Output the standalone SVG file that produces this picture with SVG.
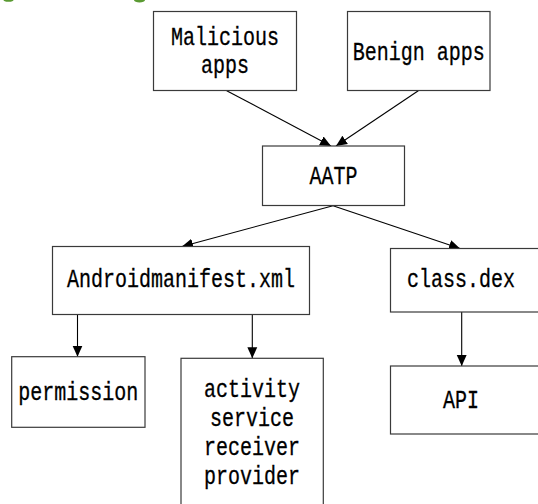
<svg xmlns="http://www.w3.org/2000/svg" width="538" height="504" viewBox="0 0 538 504">
<defs>
<style>
.box{fill:#fff;stroke:#3a3a3a;stroke-width:1.2}
.t{font-family:"Liberation Mono","DejaVu Sans Mono",monospace;font-size:25px;fill:#000;stroke:#000;stroke-width:0.3;text-anchor:middle}
.c{stroke:#000;stroke-width:1.1;fill:none;marker-end:url(#ah)}
</style>
<marker id="ah" viewBox="0 0 10 10" refX="10" refY="5" markerWidth="11" markerHeight="11" markerUnits="userSpaceOnUse" orient="auto">
<path d="M0,0.5 L10,5 L0,9.5 Z" fill="#000"/>
</marker>
</defs>
<rect width="538" height="504" fill="#fff"/>
<g id="fragments" fill="#5a9a32">
<ellipse cx="8.5" cy="0" rx="5" ry="1.8"/>
<ellipse cx="139.5" cy="0" rx="5.5" ry="2.5"/>
</g>
<g id="connectors">
<line class="c" x1="226.7" y1="90.7" x2="331" y2="146"/>
<line class="c" x1="418.3" y1="90.7" x2="336" y2="146"/>
<line class="c" x1="333" y1="205.7" x2="182" y2="246.5"/>
<line class="c" x1="333" y1="205.7" x2="460" y2="248.5"/>
<line class="c" x1="77.5" y1="314.5" x2="77.5" y2="356.7"/>
<line class="c" x1="252.3" y1="314.5" x2="252.3" y2="358.3"/>
<line class="c" x1="461.7" y1="311.7" x2="461.7" y2="366"/>
</g>
<g id="malicious">
<rect class="box" x="153.5" y="11.5" width="143" height="79"/>
<text class="t" x="225" y="45" textLength="108" lengthAdjust="spacingAndGlyphs">Malicious</text>
<text class="t" x="225" y="73" textLength="48" lengthAdjust="spacingAndGlyphs">apps</text>
</g>
<g id="benign">
<rect class="box" x="347.5" y="11.5" width="142.5" height="79"/>
<text class="t" x="418.7" y="60" textLength="132" lengthAdjust="spacingAndGlyphs">Benign apps</text>
</g>
<g id="aatp">
<rect class="box" x="262.5" y="146" width="142" height="59.5"/>
<text class="t" x="333.5" y="184" textLength="48" lengthAdjust="spacingAndGlyphs">AATP</text>
</g>
<g id="manifest">
<rect class="box" x="52.5" y="246.5" width="257" height="68"/>
<text class="t" x="181" y="287" textLength="228" lengthAdjust="spacingAndGlyphs">Androidmanifest.xml</text>
</g>
<g id="classdex">
<rect class="box" x="390.5" y="248.5" width="148.5" height="63.5"/>
<text class="t" x="461" y="287" textLength="108" lengthAdjust="spacingAndGlyphs">class.dex</text>
</g>
<g id="permission">
<rect class="box" x="11.7" y="356.7" width="133.3" height="70.6"/>
<text class="t" x="78.3" y="400" textLength="120" lengthAdjust="spacingAndGlyphs">permission</text>
</g>
<g id="components">
<rect class="box" x="181" y="358.3" width="142.3" height="150"/>
<text class="t" x="252" y="397" textLength="96" lengthAdjust="spacingAndGlyphs">activity</text>
<text class="t" x="252" y="426" textLength="84" lengthAdjust="spacingAndGlyphs">service</text>
<text class="t" x="252" y="455" textLength="96" lengthAdjust="spacingAndGlyphs">receiver</text>
<text class="t" x="252" y="484" textLength="96" lengthAdjust="spacingAndGlyphs">provider</text>
</g>
<g id="api">
<rect class="box" x="390.5" y="366" width="148.5" height="68"/>
<text class="t" x="461" y="408" textLength="36" lengthAdjust="spacingAndGlyphs">API</text>
</g>
</svg>
